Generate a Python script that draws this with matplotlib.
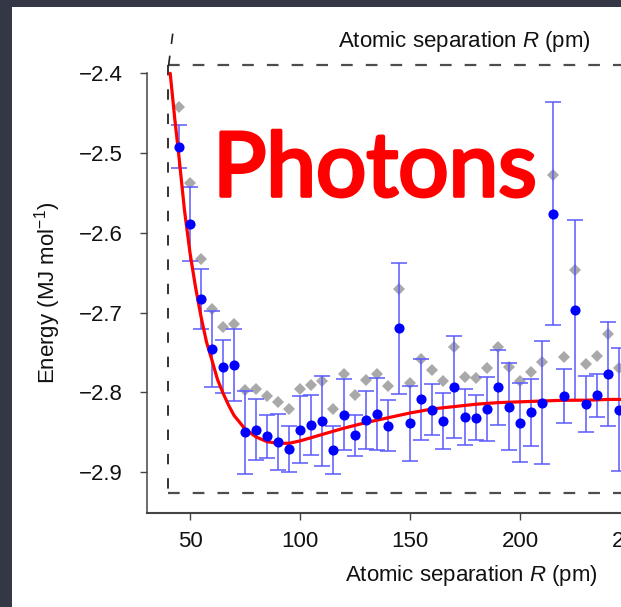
import matplotlib
matplotlib.use("Agg")
import matplotlib.pyplot as plt
from matplotlib.lines import Line2D
from matplotlib.patches import Rectangle
import matplotlib.patheffects as pe

plt.rcParams['font.family'] = ['Liberation Sans', 'DejaVu Sans']
plt.rcParams['mathtext.fontset'] = 'custom'
plt.rcParams['mathtext.rm'] = 'Liberation Sans'
plt.rcParams['mathtext.it'] = 'Liberation Sans:italic'
plt.rcParams['lines.scale_dashes'] = False

# ---------------- data ----------------
separation = [45, 50, 55, 60, 65, 70, 75, 80, 85, 90, 95, 100, 105, 110, 115, 120,
              125, 130, 135, 140, 145, 150, 155, 160, 165, 170, 175, 180, 185, 190,
              195, 200, 205, 210, 215, 220, 225, 230, 235, 240, 245]
energy_blue = [-2.492, -2.589, -2.683, -2.746, -2.768, -2.766, -2.850, -2.847, -2.855,
               -2.862, -2.871, -2.847, -2.841, -2.836, -2.872, -2.828, -2.854, -2.835,
               -2.827, -2.842, -2.720, -2.839, -2.809, -2.822, -2.836, -2.793, -2.831,
               -2.832, -2.821, -2.794, -2.818, -2.838, -2.825, -2.813, -2.576, -2.805,
               -2.697, -2.815, -2.804, -2.777, -2.822]
energy_err = [0.027, 0.047, 0.038, 0.048, 0.033, 0.045, 0.052, 0.038, 0.027, 0.035,
              0.029, 0.042, 0.038, 0.056, 0.030, 0.045, 0.026, 0.036, 0.045, 0.032,
              0.082, 0.047, 0.051, 0.032, 0.035, 0.064, 0.035, 0.028, 0.040, 0.047,
              0.055, 0.049, 0.042, 0.077, 0.140, 0.034, 0.113, 0.035, 0.027, 0.065,
              0.077]
energy_gray = [-2.442, -2.537, -2.633, -2.696, -2.718, -2.715, -2.797, -2.796, -2.805,
               -2.812, -2.821, -2.796, -2.791, -2.786, -2.821, -2.777, -2.804, -2.785,
               -2.777, -2.792, -2.670, -2.788, -2.758, -2.772, -2.786, -2.743, -2.781,
               -2.782, -2.770, -2.743, -2.768, -2.786, -2.775, -2.762, -2.527, -2.756,
               -2.647, -2.765, -2.754, -2.727, -2.770]
curve_x = [41, 43, 45, 47.5, 50, 52.5, 55, 57.5, 60, 62.5, 65, 67.5, 70, 75, 80, 85,
           90, 95, 100, 110, 120, 130, 140, 150, 160, 170, 180, 190, 200, 210, 220,
           230, 240, 250]
curve_y = [-2.400, -2.455, -2.505, -2.572, -2.625, -2.668, -2.705, -2.737, -2.760,
           -2.784, -2.801, -2.816, -2.829, -2.846, -2.856, -2.862, -2.864, -2.864,
           -2.861, -2.853, -2.845, -2.838, -2.832, -2.826, -2.821, -2.818, -2.815,
           -2.813, -2.812, -2.811, -2.810, -2.810, -2.809, -2.809]
box_left = 40
box_top = -2.3896
box_bottom = -2.926
yticks = [-2.4, -2.5, -2.6, -2.7, -2.8, -2.9]
xticks = [50, 100, 150, 200, 250]

# ---------------- figure ----------------
W, H = 621, 607
fig = plt.figure(figsize=(W / 100, H / 100), dpi=100)
fig.patch.set_facecolor('#343846')


def fx(px):
    return px / W


def fy(py):
    return 1 - py / H


# white panel (behind everything)
fig.patches.append(Rectangle((fx(12), 0), 1, fy(7), transform=fig.transFigure,
                             facecolor='white', edgecolor='none', zorder=-10))

# axes placement (pixel based)
px_left, px_bottom, px_top = 146.7, 512.5, 15.0
x_left, x_right = 30.32, 260.0
px_right = 80 + 2.2 * x_right
y_bottom = -2.4 - (px_bottom - 73.3) / 797.4
y_top = -2.4 + (73.3 - px_top) / 797.4
ax = fig.add_axes([fx(px_left), fy(px_bottom), (px_right - px_left) / W,
                   (px_bottom - px_top) / H])
ax.set_zorder(1)
ax.set_facecolor('none')
ax.set_xlim(x_left, x_right)
ax.set_ylim(y_bottom, y_top)

for s in ['top', 'right']:
    ax.spines[s].set_visible(False)
ax.spines['left'].set_bounds(y_bottom, -2.4)
ax.spines['left'].set_color('#444444')
ax.spines['left'].set_linewidth(1.1)
ax.spines['bottom'].set_color('#444444')
ax.spines['bottom'].set_linewidth(1.5)

ax.set_yticks(yticks)
ax.set_yticklabels([f"\u2212{abs(v):.1f}" for v in yticks])
ax.set_xticks(xticks)
ax.tick_params(axis='both', direction='out', length=5, width=1.0, color='#444444',
               labelsize=16, labelcolor='#111111')
ax.tick_params(axis='y', pad=12.5)
ax.tick_params(axis='x', pad=8.5)

# dashed box
ax.plot([box_left, x_right], [box_top, box_top], color='#4d4d4d', lw=1.6,
        dashes=(8.4, 9.4), zorder=1, clip_on=False)
ax.plot([box_left, x_right], [box_bottom, box_bottom], color='#4d4d4d', lw=1.6,
        dashes=(8.4, 9.4), zorder=1)
ax.plot([box_left, box_left], [box_top, box_bottom], color='#222222', lw=1.3,
        dashes=(7.5, 10), zorder=1, clip_on=False)

# small slanted dashed mark above the box corner
fig.add_artist(Line2D([fx(168.5), fx(173.5)], [fy(66), fy(28)], color='#222222',
                      lw=1.2, dashes=(7.5, 8.5)))

# data
ax.plot(separation, energy_gray, linestyle='none', marker='D', markersize=6.4,
        color='#a9a9a9', markeredgewidth=0, zorder=2)
ax.errorbar(separation, energy_blue, yerr=energy_err, fmt='none', ecolor='#5a5aff',
            elinewidth=1.1, capsize=6, capthick=1.1, zorder=3)
ax.plot(curve_x, curve_y, color='#ff0000', lw=2.3, zorder=4, solid_capstyle='round')
ax.plot(separation, energy_blue, linestyle='none', marker='o', markersize=7.3,
        color='#0000ff', markeredgewidth=0, zorder=5)

# texts
fig.text(fx(464.5), fy(42), 'Atomic separation $R$ (pm)', ha='center', va='center',
         fontsize=16, color='#111111')
fig.text(fx(471.5), fy(576), 'Atomic separation $R$ (pm)', ha='center', va='center',
         fontsize=16, color='#111111')
fig.text(fx(48), fy(293), 'Energy (MJ mol$^{\u22121}$)', ha='center', va='center',
         rotation=90, fontsize=16, color='#111111')

fig.text(fx(213), fy(196), 'Photons', ha='left', va='baseline', fontsize=64,
         family=['Lato', 'DejaVu Sans'], fontweight='normal', color='#ff0000',
         path_effects=[pe.withStroke(linewidth=2.6, foreground='#ff0000',
                                     capstyle='round', joinstyle='round')])

fig.savefig('out.png', dpi=100, facecolor=fig.get_facecolor())
